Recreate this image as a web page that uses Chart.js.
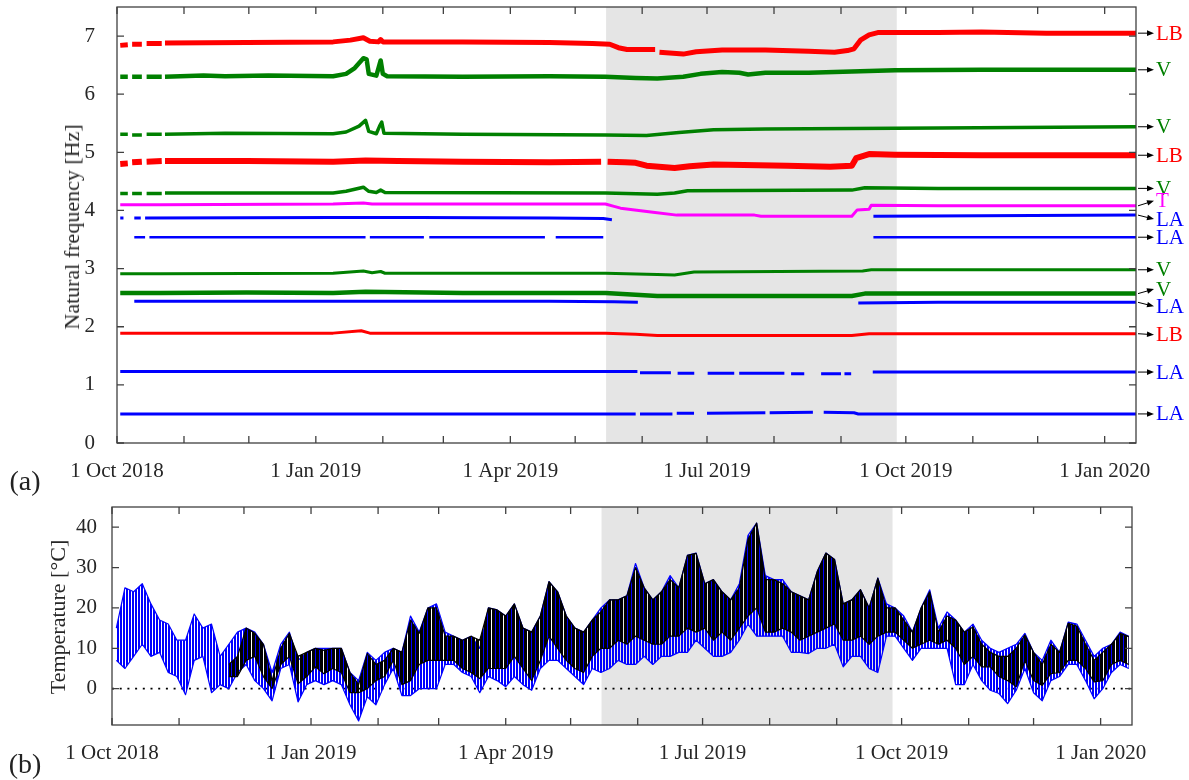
<!DOCTYPE html>
<html>
<head>
<meta charset="utf-8">
<title>Natural frequencies and temperature</title>
<script src="https://cdn.jsdelivr.net/npm/chart.js@4.4.0/dist/chart.umd.min.js"></script>
<style>
  html, body { margin: 0; padding: 0; background: #fff; }
  body { position: relative; width: 1189px; height: 780px; overflow: hidden; font-family: 'Liberation Serif', serif; color: #262626; }
  canvas { position: absolute; left: 0; }
  #freqChart { top: 0; }
  #tempChart { top: 495px; }
  .ylabel { position: absolute; transform: translate(-50%, -50%) rotate(-90deg); white-space: nowrap; font-size: 22px; }
  .panel { position: absolute; font-size: 28px; transform: translate(-50%, -50%); color: #222; }
</style>
</head>
<body>
<canvas id="freqChart" width="1189" height="495"></canvas>
<canvas id="tempChart" width="1189" height="285"></canvas>
<div class="ylabel" style="left:72px; top:227px;">Natural frequency [Hz]</div>
<div class="ylabel" style="left:58px; top:617px;">Temperature [°C]</div>
<div class="panel" style="left:25px; top:481px;">(a)</div>
<div class="panel" style="left:25px; top:764px;">(b)</div>
<script>
// x values are days counted from 1 Oct 2018
const dateTickDays = [0, 31, 61, 92, 123, 151, 182, 212, 243, 273, 304, 335, 365, 396, 426, 457];
const dateTickLabels = ['1 Oct 2018', '', '', '1 Jan 2019', '', '', '1 Apr 2019', '', '',
  '1 Jul 2019', '', '', '1 Oct 2019', '', '', '1 Jan 2020'];
const lastDay = 471.5;
const shadedDays = [226.3, 360.8];
const freqTicks = [0, 1, 2, 3, 4, 5, 6, 7];
const tempTicks = [0, 10, 20, 30, 40];

// identified modes, [day, Hz], null = no identification
const lbTop = [[1.5,6.84],[5,6.85],[6,null],[7,6.86],[11.5,6.86],[12.5,null],[13.7,6.87],[20.7,6.87],[21.5,null],[22.2,6.88],
  [60,6.89],[100,6.90],[108,6.93],[114,6.97],[117,6.91],[121,6.90],[122,6.94],[123,6.90],[160,6.90],[200,6.89],[220,6.87],
  [228,6.86],[232,6.80],[236,6.77],[249,6.77],[249.5,null],[251,6.72],[262,6.69],[268,6.73],[280,6.76],[300,6.76],[320,6.74],
  [332,6.72],[338,6.75],[341,6.78],[344,6.93],[348,7.02],[352,7.06],[380,7.06],[400,7.07],[430,7.05],[471.5,7.05]];
const vA = [[1.5,6.30],[5,6.30],[6,null],[7,6.30],[11.5,6.30],[12.5,null],[13.7,6.30],[20.7,6.30],[21.5,null],[22.2,6.30],
  [40,6.32],[50,6.31],[70,6.32],[100,6.31],[106,6.35],[110,6.45],[114,6.62],[115.5,6.60],[116.5,6.35],[120,6.32],[121,6.45],
  [122,6.58],[123,6.35],[125,6.31],[160,6.30],[200,6.31],[226,6.30],[240,6.28],[250,6.27],[262,6.30],[270,6.35],[280,6.38],
  [288,6.37],[292,6.34],[300,6.37],[320,6.37],[340,6.39],[360,6.41],[400,6.42],[471.5,6.42]];
const vB = [[1.5,5.31],[5,5.31],[6,null],[7,5.30],[11.5,5.30],[12.5,null],[13.7,5.31],[20.7,5.31],[21.5,null],[22.2,5.31],
  [50,5.33],[100,5.32],[106,5.35],[112,5.45],[115,5.55],[116.5,5.36],[120,5.32],[121.5,5.45],[122.5,5.52],[123.5,5.33],
  [160,5.31],[226,5.30],[245,5.29],[260,5.34],[276,5.39],[300,5.40],[340,5.41],[380,5.42],[471.5,5.44]];
const lbMid = [[1.5,4.80],[5,4.81],[6,null],[7,4.83],[11.5,4.84],[12.5,null],[13.7,4.84],[20.7,4.85],[21.5,null],[22.2,4.85],
  [60,4.85],[100,4.84],[115,4.86],[130,4.85],[160,4.84],[200,4.83],[224,4.84],[225,null],[227,4.84],[235,4.83],[240,4.82],
  [245,4.77],[258,4.73],[265,4.76],[276,4.79],[290,4.78],[310,4.77],[330,4.75],[340,4.77],[342,4.90],[348,4.97],[360,4.96],
  [400,4.95],[471.5,4.95]];
const vC = [[1.5,4.29],[5,4.29],[6,null],[7,4.29],[11.5,4.29],[12.5,null],[13.7,4.29],[20.7,4.29],[21.5,null],[22.2,4.30],
  [100,4.30],[106,4.33],[114,4.40],[116.5,4.33],[120,4.31],[122,4.35],[124,4.31],[226,4.30],[250,4.28],[258,4.30],[264,4.34],
  [340,4.35],[346,4.39],[380,4.38],[471.5,4.38]];
const tMode = [[1.5,4.10],[20,4.10],[100,4.11],[114,4.13],[118,4.11],[226,4.11],[230,4.07],[233,4.04],[248,3.97],[259,3.92],
  [295,3.92],[298,3.90],[340,3.90],[342.5,4.01],[348,4.02],[349,4.09],[380,4.08],[471.5,4.08]];
const laA = [[1.5,3.87],[3,3.87],[3.5,null],[8,3.87],[11,3.87],[11.5,null],[13,3.87],[100,3.88],[140,3.88],[200,3.87],
  [225,3.86],[229,3.84],[229.5,null],[342,3.87],[343,null],[350,3.90],[400,3.91],[471.5,3.92]];
const laB = [[8,3.54],[13,3.54],[13.5,null],[15,3.54],[115,3.54],[115.5,null],[117,3.54],[142,3.54],[142.5,null],[144.5,3.54],
  [198,3.54],[198.5,null],[203,3.54],[225,3.54],[225.5,null],[350,3.54],[471.5,3.54]];
const vD = [[1.5,2.91],[20,2.91],[100,2.92],[114,2.96],[118,2.93],[122,2.95],[124,2.92],[226,2.92],[250,2.90],[258,2.89],
  [267,2.94],[345,2.96],[349,2.98],[471.5,2.98]];
const vE = [[1.5,2.58],[20,2.58],[60,2.59],[100,2.58],[115,2.60],[160,2.58],[226,2.58],[240,2.55],[250,2.53],[340,2.53],
  [346,2.57],[471.5,2.57]];
const laC = [[8,2.44],[100,2.44],[200,2.44],[230,2.43],[241,2.42],[241.5,null],[343,2.41],[380,2.42],[471.5,2.42]];
const lbLow = [[1.5,1.89],[100,1.89],[113,1.93],[117,1.89],[226,1.89],[240,1.87],[250,1.85],[300,1.85],[340,1.85],[348,1.88],
  [471.5,1.88]];
const laD = [[1.5,1.23],[240.8,1.23],[241,null],[242,1.21],[256.3,1.21],[256.5,null],[259.4,1.20],[267.1,1.20],[267.3,null],
  [273.3,1.20],[285.6,1.20],[285.8,null],[287.9,1.20],[308.8,1.20],[309,null],[311.9,1.19],[318,1.19],[318.2,null],
  [325.8,1.19],[335,1.19],[335.2,null],[336.6,1.19],[339.7,1.19],[339.9,null],[349.7,1.22],[471.5,1.22]];
const laE = [[1.5,0.50],[240,0.50],[241,null],[242,0.50],[257,0.50],[257.2,null],[259,0.51],[267,0.51],[267.2,null],
  [273,0.51],[300,0.52],[300.5,null],[302,0.52],[322,0.53],[322.2,null],[327,0.53],[341,0.52],[343,0.50],[471.5,0.50]];

const modeNames = ['LB', 'V', 'V', 'LB', 'V', 'T', 'LA', 'LA', 'V', 'V', 'LA', 'LB', 'LA', 'LA'];
const modeSeries = [lbTop, vA, vB, lbMid, vC, tMode, laA, laB, vD, vE, laC, lbLow, laD, laE];

// temperature, daily extremes over 4-day bins starting 1 Oct 2018
const binDays = 4;
const tempBlueHigh = [15,25,24,26,21,17,16,12,12,18.5,15,16,8,11,14,15,14,11,4,11,
  14,7,9,10,10,10,10,4,2,9,7,9,10,9,18,14,20,21,14,13,
  12,13,10,20,19.5,18,21,15,14,18,26.5,24,18,15,14,17,20,22,22,23,
  31,25,22,24,28,25,33,33.6,26,27,24,22,26,38,41,28,27,27,24,23,
  22,29,33.6,32,21,22,24.5,20,27.4,21,20,18,14,20,24.5,15,19,17,14,16,
  12,10,9,10,11,13.7,9,7,12,9,16.5,16,12,8,10,11,14,13];
const tempBlueLow = [7,5,8,11,8,9,4,3,-1.5,7,8,-1,1,0,4,6,2,0,-3,5,
  6,-3.3,1,2,1,2,1,-4,-8,-2,-4,1,5,-1.7,-1.7,0,0,0,6,6,
  4,3,-1,3,2,0.5,3,1,-0.4,5,7,7,5,3,1,5,4,5,7,6,
  6,8,6,8,8,9,9,12,10,8,8,9,12,16,13,13,13,13,9,9,
  8.7,10,10,11,5.4,8,8,5,4,13,13,10,7,10,10,10,10,1,1,6,
  2,-0.4,-1.2,-3.7,-0.4,5,-1,-3,2,3,6,6,2,-2.5,0,4,6,5];
const tempBlackHigh = [null,null,null,null,null,null,null,null,null,null,null,null,null,6,8,15,13.7,11,2,10,
  13.7,8,9,10,9.5,10,10,4,1,8.7,6,7,10,9,17,13.7,20,20,13,13,
  12,13,12,20,19.5,18,21,15,14,18,26.5,24,18,15,14,17,19,22,22,23,
  30,25,22,24,27,25,33,33.5,26,27,24,22,25,37,41,27,27,26,24,23,
  22,29,33.6,32,21,22,24.5,20,27.4,20,20,17,14,20,24,14,18,17,14,15.3,
  11,9,8,8,10,13.3,9,6,11,9,16.2,15.5,11,7,9,11,13.7,12.9];
const tempBlackLow = [null,null,null,null,null,null,null,null,null,null,null,null,null,3,3,7,8,3,0,6,
  8,1.2,3,5.4,3.7,5,4,-1,-1,0,2,3,7,1,2,6,7,7,7,7,
  5,4,2.5,5,5,5,8,5,2,7,13,10,7,5,4,8,10,10,12,11,
  13,12,11,11,13,13,15,14,15,12,14,12,15,18,20,14,14,15,14,12,
  13,14,15,16,12,12,13,11,13,14,14,12,10,11,12,11,12,10,6,8,
  5.4,5.4,3,2,0.5,7,2,0.8,3.7,4,7,7,5,1.7,2,6,7,6];
const zeroLine = [[0, 0], [lastDay, 0]];

const modeColors = { LB: '#ff0000', V: '#008000', LA: '#0000ff', T: '#ff00ff' };
const bandWidths = [5, 4.5, 3.5, 6, 3.5, 3, 3, 2.5, 3, 4.5, 3, 3, 3, 3];
// vertical offset (px) of each label from the end of its series
const labelShift = [0, 0, 0, 0, 0, -5, 4, 0, 0, -4.5, 4, 1, 0, 0];
const fontFamily = "'Liberation Serif', serif";
const textColor = '#262626';

function toPoints(pairs) {
  return pairs.map(p => ({ x: p[0], y: p[1] }));
}

// bin values placed at the middle of each bin
function binPoints(values) {
  return values.map((v, i) => ({ x: i * binDays + binDays / 2, y: v }));
}

// streaked fill, so a band reads like a cloud of samples
function streaks(color, tileW, tileH, dotW, dotH) {
  const c = document.createElement('canvas');
  c.width = tileW; c.height = tileH;
  const g = c.getContext('2d');
  g.fillStyle = color;
  g.fillRect(0, 0, dotW, dotH);
  return g.createPattern(c, 'repeat');
}

const shadePlugin = {
  id: 'shade',
  beforeDatasetsDraw(chart) {
    const { ctx, chartArea: a, scales: { x } } = chart;
    const x0 = x.getPixelForValue(shadedDays[0]);
    const x1 = x.getPixelForValue(shadedDays[1]);
    ctx.save();
    ctx.fillStyle = '#e5e5e5';
    ctx.fillRect(x0, a.top, x1 - x0, a.bottom - a.top);
    ctx.restore();
  }
};

// box round the plot with inward ticks on all four sides
const framePlugin = {
  id: 'frame',
  afterDatasetsDraw(chart) {
    const { ctx, chartArea: a, scales: { x, y } } = chart;
    const len = 7;
    ctx.save();
    ctx.strokeStyle = '#404040';
    ctx.lineWidth = 1.3;
    ctx.beginPath();
    dateTickDays.forEach(d => {
      const px = x.getPixelForValue(d);
      ctx.moveTo(px, a.top); ctx.lineTo(px, a.top + len);
      ctx.moveTo(px, a.bottom); ctx.lineTo(px, a.bottom - len);
    });
    y.ticks.forEach(t => {
      const py = y.getPixelForValue(t.value);
      ctx.moveTo(a.left, py); ctx.lineTo(a.left + len, py);
      ctx.moveTo(a.right, py); ctx.lineTo(a.right - len, py);
    });
    ctx.stroke();
    ctx.strokeRect(a.left, a.top, a.right - a.left, a.bottom - a.top);
    ctx.restore();
  }
};

// arrows and mode names at the right of the frequency plot
const modeLabelPlugin = {
  id: 'modeLabels',
  afterDraw(chart) {
    const { ctx, chartArea: a, scales: { y } } = chart;
    ctx.save();
    ctx.font = '21px ' + fontFamily;
    ctx.textBaseline = 'middle';
    modeSeries.forEach((s, i) => {
      const y0 = y.getPixelForValue(s[s.length - 1][1]);
      const y1 = y0 + labelShift[i];
      const x0 = a.right + 2, x1 = a.right + 18;
      const ang = Math.atan2(y1 - y0, x1 - x0);
      ctx.strokeStyle = '#000';
      ctx.fillStyle = '#000';
      ctx.lineWidth = 1;
      ctx.beginPath();
      ctx.moveTo(x0, y0);
      ctx.lineTo(x1 - 3 * Math.cos(ang), y1 - 3 * Math.sin(ang));
      ctx.stroke();
      ctx.beginPath();
      ctx.moveTo(x1, y1);
      ctx.lineTo(x1 - 7 * Math.cos(ang) + 2.8 * Math.sin(ang), y1 - 7 * Math.sin(ang) - 2.8 * Math.cos(ang));
      ctx.lineTo(x1 - 7 * Math.cos(ang) - 2.8 * Math.sin(ang), y1 - 7 * Math.sin(ang) + 2.8 * Math.cos(ang));
      ctx.closePath();
      ctx.fill();
      ctx.fillStyle = modeColors[modeNames[i]];
      ctx.fillText(modeNames[i], x1 + 2, y1 + 1);
    });
    ctx.restore();
  }
};

function noEdgePadding(s) {
  s.paddingTop = 0; s.paddingBottom = 0; s.paddingLeft = 0; s.paddingRight = 0;
}

function dateAxis(height) {
  return {
    type: 'linear', min: 0, max: lastDay,
    grid: { display: false }, border: { display: false },
    afterBuildTicks: s => { s.ticks = dateTickDays.map(v => ({ value: v })); },
    afterFit: s => { s.height = height; noEdgePadding(s); },
    ticks: {
      autoSkip: false, maxRotation: 0, padding: 8, color: textColor,
      font: { family: fontFamily, size: 21 },
      callback: v => dateTickLabels[dateTickDays.indexOf(v)] || ''
    }
  };
}

function valueAxis(min, max, tickValues, width, pad) {
  return {
    min: min, max: max,
    grid: { display: false }, border: { display: false },
    afterBuildTicks: s => { s.ticks = tickValues.map(v => ({ value: v })); },
    afterFit: s => { s.width = width; noEdgePadding(s); },
    ticks: { padding: pad, color: textColor, font: { family: fontFamily, size: 21 } }
  };
}

// (a) natural frequencies
new Chart(document.getElementById('freqChart'), {
  type: 'scatter',
  data: {
    datasets: modeSeries.map((s, i) => ({
      label: modeNames[i],
      data: toPoints(s),
      showLine: true,
      spanGaps: false,
      borderColor: modeColors[modeNames[i]],
      borderWidth: bandWidths[i],
      borderJoinStyle: 'round',
      pointRadius: 0
    }))
  },
  options: {
    responsive: false,
    animation: false,
    events: [],
    layout: { padding: { top: 7, right: 53, left: 0, bottom: 0 } },
    plugins: { legend: { display: false }, tooltip: { enabled: false } },
    scales: { x: dateAxis(52), y: valueAxis(0, 7.5, freqTicks, 117, 14) }
  },
  plugins: [shadePlugin, framePlugin, modeLabelPlugin]
});

// (b) temperature: each sensor drawn as the band between its bin extremes
function band(high, low, color, fillPattern, order) {
  const common = { showLine: true, spanGaps: false, pointRadius: 0, borderWidth: 1.2,
    borderColor: color, borderJoinStyle: 'round', order: order };
  return [
    Object.assign({ label: 'max', data: binPoints(high), fill: false }, common),
    Object.assign({ label: 'min', data: binPoints(low), fill: '-1', backgroundColor: fillPattern }, common)
  ];
}

new Chart(document.getElementById('tempChart'), {
  type: 'scatter',
  data: {
    datasets: [
      ...band(tempBlackHigh, tempBlackLow, '#000000', streaks('#000000', 4, 1, 3, 1), 0),
      ...band(tempBlueHigh, tempBlueLow, '#0000ff', streaks('#0000ff', 3, 1, 2, 1), 1),
      { label: '0', data: toPoints(zeroLine), order: 2, showLine: true,
        borderColor: '#000000', borderWidth: 1.6, borderDash: [2, 5.7], pointRadius: 0 }
    ]
  },
  options: {
    responsive: false,
    animation: false,
    events: [],
    layout: { padding: { top: 12, right: 57, left: 0, bottom: 0 } },
    plugins: { legend: { display: false }, tooltip: { enabled: false }, filler: { propagate: false } },
    scales: { x: dateAxis(55), y: valueAxis(-9, 45, tempTicks, 112, 7) }
  },
  plugins: [shadePlugin, framePlugin]
});
</script>
</body>
</html>
